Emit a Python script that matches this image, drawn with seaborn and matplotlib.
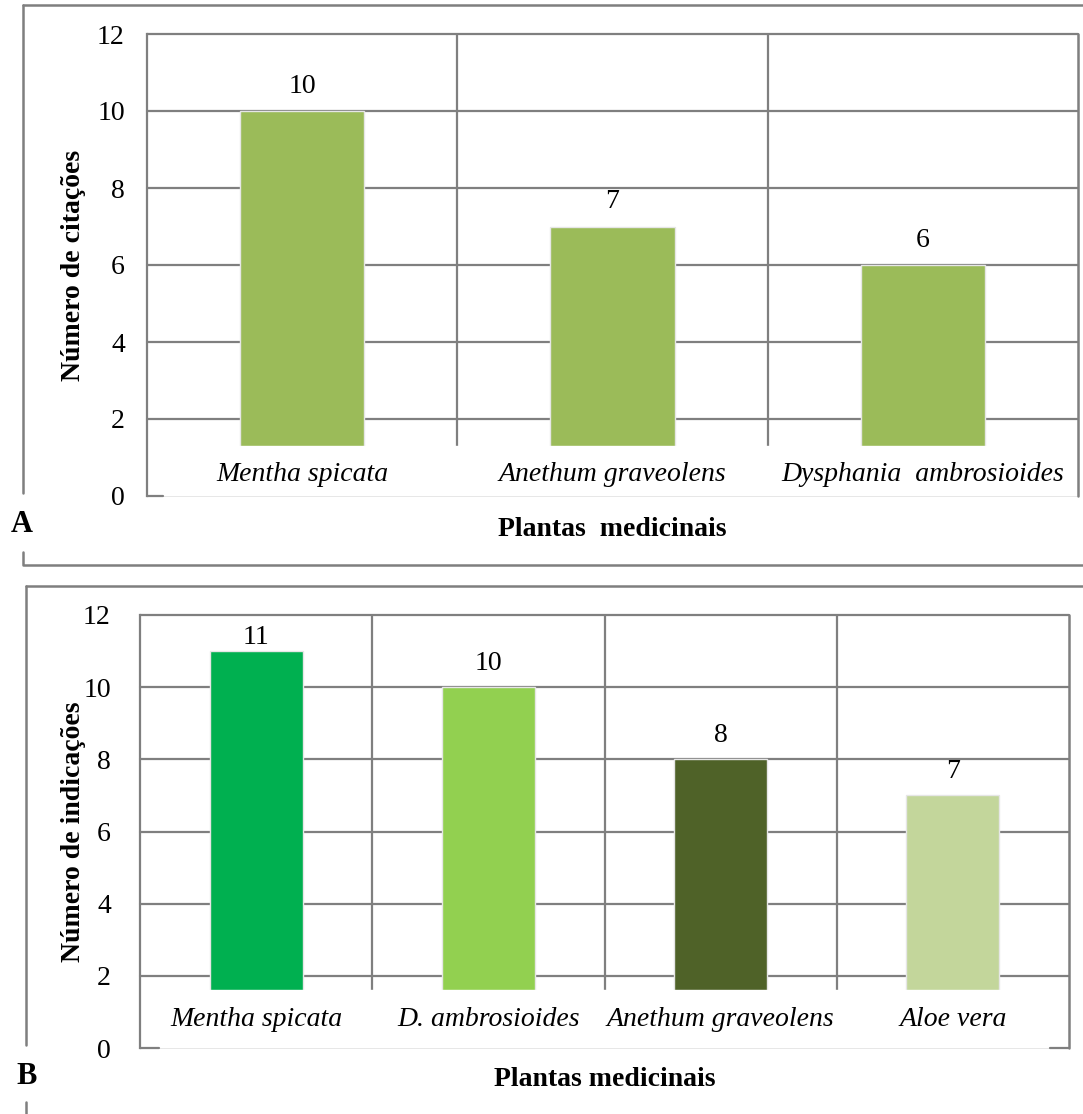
import numpy as np
import matplotlib
matplotlib.use('Agg')
import matplotlib.pyplot as plt
import seaborn as sns
from matplotlib.lines import Line2D

# panel A data
plantas_a = ['Mentha spicata', 'Anethum graveolens', 'Dysphania  ambrosioides']
citacoes = [10, 7, 6]
cores_a = ['#9BBB59', '#9BBB59', '#9BBB59']

# panel B data
plantas_b = ['Mentha spicata', 'D. ambrosioides', 'Anethum graveolens', 'Aloe vera']
indicacoes = [11, 10, 8, 7]
cores_b = ['#00B050', '#92D050', '#4F6228', '#C3D69B']

yticks = [0, 2, 4, 6, 8, 10, 12]

sns.set_style('white')
plt.rcParams['font.family'] = ['Liberation Serif', 'DejaVu Serif']
plt.rcParams['text.color'] = 'black'
plt.rcParams['axes.labelcolor'] = 'black'
plt.rcParams['ytick.labelcolor'] = 'black'

W, H = 1083, 1114
fig = plt.figure(figsize=(W / 100, H / 100), dpi=100)
grid_c = '#7f7f7f'
fs = 20


def px(x0, y0, x1, y1):
    # pixel box -> figure fraction [left, bottom, width, height]
    return [x0 / W, 1 - y1 / H, (x1 - x0) / W, (y1 - y0) / H]


def draw_panel(box, names, values, colors, ylabel, xlabel, base, lab_y, top_lab, right_low, tickout):
    ax = fig.add_axes(box)
    sns.barplot(x=names, y=values, hue=names, palette=colors, legend=False,
                width=0.4, ax=ax, saturation=1, edgecolor='#e6e6e6', linewidth=1, zorder=2)
    n = len(names)
    ax.set_xlim(-0.5, n - 0.5)
    ax.set_ylim(0, 12)
    ax.set_yticks(yticks)
    ax.set_yticklabels([str(t) for t in yticks], fontsize=fs)
    ax.tick_params(axis='y', length=7 if tickout else 0, width=1.5, color=grid_c, pad=16 if not tickout else 14)
    ax.set_xticks([])
    for t in yticks[1:]:
        ax.axhline(t, color=grid_c, lw=1.6, zorder=1, clip_on=False)
    # white band under the bars where the category names sit
    ax.axhspan(0, base, color='white', zorder=3)
    for b in np.arange(0.5, n - 0.5, 1.0):
        ax.axvline(b, ymin=base / 12 - 0.005, ymax=1, color=grid_c, lw=1.6, zorder=1)
    ax.axvline(n - 0.5, ymin=right_low / 12, ymax=1,
               color=grid_c, lw=1.8, zorder=4, clip_on=False)
    for s in ['top', 'right']:
        ax.spines[s].set_visible(False)
    ax.spines['left'].set_color(grid_c)
    ax.spines['left'].set_linewidth(1.6)
    ax.spines['left'].set_zorder(6)
    ax.spines['bottom'].set_color('#e3e3e3')
    ax.spines['bottom'].set_linewidth(1.2)
    for i, (nm, v) in enumerate(zip(names, values)):
        ax.text(i, min(v + 0.47, top_lab), str(v), ha='center', va='baseline', fontsize=fs, zorder=5)
        ax.text(i, lab_y, nm, ha='center', va='center', fontsize=fs, style='italic', zorder=5)
    ax.set_ylabel(ylabel, fontsize=fs, fontweight='bold')
    ax.set_xlabel(xlabel, fontsize=fs, fontweight='bold')
    ax.set_facecolor('white')
    return ax


axA = draw_panel(px(147, 34, 1078, 496), plantas_a, citacoes, cores_a,
                 'Número de citações', 'Plantas  medicinais', 1.3, 0.55, 11.5, 0.0, False)
# small corner at the origin of panel A
axA.plot([-0.5, -0.45], [0, 0], color=grid_c, lw=1.6, clip_on=False, zorder=6)

axB = draw_panel(px(140, 615, 1069, 1048), plantas_b, indicacoes, cores_b,
                 'Número de indicações', 'Plantas medicinais', 1.6, 0.8, 11.2, 0.0, True)
axB.plot([-0.5, -0.42], [0, 0], color=grid_c, lw=1.6, clip_on=False, zorder=6)
axB.plot([3.42, 3.5], [0, 0], color=grid_c, lw=1.6, clip_on=False, zorder=6)

axA.yaxis.set_label_coords(-0.066, 0.5)
axB.yaxis.set_label_coords(-0.058, 0.5)
axA.xaxis.set_label_coords(0.5, -0.045)
axB.xaxis.set_label_coords(0.5, -0.045)


def fline(xs, ys):
    fig.add_artist(Line2D([x / W for x in xs], [1 - y / H for y in ys], color=grid_c, lw=1.8))


# outer frames
fline([23, 1083], [5, 5])
fline([23, 23], [5, 493])
fline([23, 23, 1083], [552, 565, 565])
fline([26, 1083], [586, 586])
fline([26, 26], [586, 1045])
fline([26, 26], [1102, 1114])

fig.text(22 / W, 1 - 525 / H, 'A', fontsize=22, fontweight='bold', ha='center', va='center')
fig.text(27 / W, 1 - 1077 / H, 'B', fontsize=22, fontweight='bold', ha='center', va='center')

fig.savefig('out.png', dpi=100, facecolor='white')
